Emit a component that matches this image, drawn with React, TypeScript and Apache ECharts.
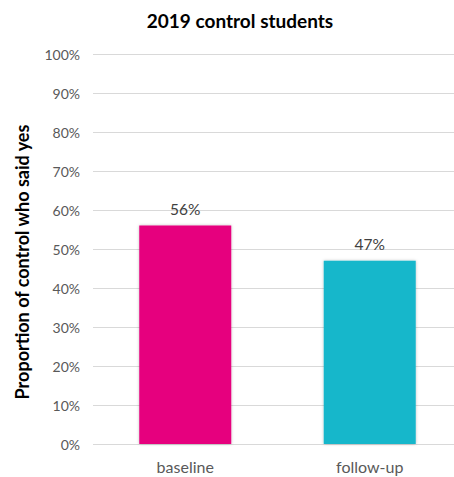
import React, { useEffect, useRef } from "react";
import * as echarts from "echarts";

const categories = ["baseline", "follow-up"];
const values = [56, 47];
const barColors = ["#E6007E", "#17B7CB"];

export default function App() {
  const ref = useRef<HTMLDivElement>(null);
  useEffect(() => {
    const chart = echarts.init(ref.current!, null, { renderer: "svg" });
    chart.setOption({
      animation: false,
      backgroundColor: "#ffffff",
      title: {
        text: "2019 control students",
        left: 235,
        textAlign: "center",
        top: 6,
        textStyle: { fontFamily: "Lato", fontSize: 19, fontWeight: "bold", color: "#000" },
      },
      graphic: [
        {
          type: "text",
          x: 22,
          y: 262,
          rotation: Math.PI / 2,
          style: {
            text: "Proportion of control who said yes",
            fontFamily: "Lato",
            fontSize: 18,
            fontWeight: "bold",
            fill: "#000",
            align: "center",
            verticalAlign: "middle",
          },
        },
      ],
      grid: { left: 93, right: 0, top: 54, bottom: 33 },
      xAxis: {
        type: "category",
        data: categories,
        axisLine: { show: false },
        axisTick: { show: false },
        axisLabel: { fontFamily: "Lato", fontSize: 16, color: "#595959", margin: 14 },
      },
      yAxis: {
        type: "value",
        min: 0,
        max: 100,
        interval: 10,
        axisLabel: {
          formatter: "{value}%",
          fontFamily: "Lato",
          fontSize: 14,
          color: "#595959",
          margin: 13,
        },
        splitLine: { lineStyle: { color: "#d9d9d9", width: 1 } },
      },
      series: [
        {
          type: "bar",
          data: values.map((v, i) => ({ value: v, itemStyle: { color: barColors[i] } })),
          barWidth: 92,
          itemStyle: { shadowColor: "rgba(0,0,0,0.25)", shadowBlur: 3 },
          label: {
            show: true,
            position: "top",
            formatter: "{c}%",
            fontFamily: "Lato",
            fontSize: 15.5,
            color: "#404040",
            distance: 9,
          },
        },
      ],
    });
    return () => chart.dispose();
  }, []);
  return (
    <div style={{ width: 454, height: 477, position: "absolute", left: 0, top: 0, overflow: "hidden", background: "#fff" }}>
      <div ref={ref} style={{ width: 462, height: 477 }} />
    </div>
  );
}
